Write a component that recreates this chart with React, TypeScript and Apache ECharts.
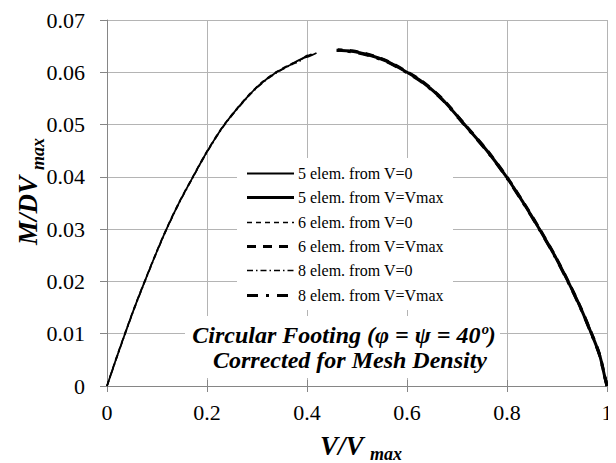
import React, { useEffect, useRef } from "react";
import * as echarts from "echarts";

// V/Vmax and M/(D·Vmax)
const v5From0 = [0, 0.018, 0.036, 0.055, 0.0755, 0.097, 0.119, 0.145, 0.172, 0.2, 0.235, 0.28, 0.31, 0.339, 0.37, 0.39, 0.405, 0.419];
const m5From0 = [0, 0.0051, 0.01, 0.015, 0.02, 0.0251, 0.03, 0.0352, 0.04, 0.0448, 0.05, 0.0552, 0.058, 0.06, 0.0616, 0.0626, 0.0631, 0.0637];
const v6From0 = [0, 0.018, 0.036, 0.055, 0.0755, 0.097, 0.119, 0.145, 0.172, 0.2, 0.235, 0.28, 0.31, 0.339, 0.37, 0.385, 0.395, 0.405, 0.412];
const m6From0 = [0, 0.0052, 0.0101, 0.0151, 0.0201, 0.0252, 0.0301, 0.0353, 0.0401, 0.0449, 0.0501, 0.0553, 0.0581, 0.0601, 0.0617, 0.0623, 0.0628, 0.0633, 0.0636];
const v8From0 = [0, 0.018, 0.036, 0.055, 0.0755, 0.097, 0.119, 0.145, 0.172, 0.2, 0.235, 0.28, 0.31, 0.339, 0.37, 0.385, 0.398, 0.41, 0.416];
const m8From0 = [0, 0.005, 0.0099, 0.0149, 0.0199, 0.025, 0.0299, 0.0351, 0.0399, 0.0447, 0.0499, 0.0551, 0.0579, 0.0599, 0.0615, 0.0621, 0.0631, 0.0634, 0.0637];

const v5FromMax = [1, 0.995, 0.985, 0.969, 0.947, 0.922, 0.895, 0.865, 0.833, 0.799, 0.76, 0.715, 0.67, 0.63, 0.6, 0.56, 0.52, 0.49, 0.459];
const m5FromMax = [0, 0.002, 0.006, 0.01, 0.015, 0.02, 0.025, 0.03, 0.035, 0.04, 0.045, 0.05, 0.0549, 0.0582, 0.06, 0.0621, 0.0634, 0.064, 0.0642];
const v6FromMax = [1, 0.995, 0.985, 0.969, 0.947, 0.922, 0.895, 0.865, 0.833, 0.799, 0.76, 0.715, 0.67, 0.63, 0.6, 0.56, 0.52, 0.49, 0.462];
const m6FromMax = [0, 0.0021, 0.0061, 0.0101, 0.0151, 0.0201, 0.0251, 0.0301, 0.0351, 0.0401, 0.0451, 0.0501, 0.055, 0.0583, 0.0601, 0.0622, 0.0635, 0.0641, 0.0643];
const v8FromMax = [1, 0.995, 0.985, 0.969, 0.947, 0.922, 0.895, 0.865, 0.833, 0.799, 0.76, 0.715, 0.67, 0.63, 0.6, 0.56, 0.52, 0.49, 0.46];
const m8FromMax = [0, 0.0019, 0.0059, 0.0099, 0.0149, 0.0199, 0.0249, 0.0299, 0.0349, 0.0399, 0.0449, 0.0499, 0.0548, 0.0581, 0.0599, 0.062, 0.0633, 0.0639, 0.0642];

const seriesNames = [
  "5 elem. from V=0",
  "5 elem. from V=Vmax",
  "6 elem. from V=0",
  "6 elem. from V=Vmax",
  "8 elem. from V=0",
  "8 elem. from V=Vmax",
];
const xTicks = [0, 0.2, 0.4, 0.6, 0.8, 1];
const yTicks = [0, 0.01, 0.02, 0.03, 0.04, 0.05, 0.06, 0.07];
const noteLines = ["Circular Footing (φ = ψ = 40º)", "Corrected for Mesh Density"];

const FONT = "Liberation Serif";
// the chart div sits at the page's default 8px body margin; page coordinates are shifted by this
const OFF = 8;

const zip = (xs: number[], ys: number[]) => xs.map((x, i) => [x, ys[i]]);

function measure(text: string, font: string, fallback: number) {
  try {
    const ctx = document.createElement("canvas").getContext("2d");
    if (!ctx) return fallback;
    ctx.font = font;
    const w = ctx.measureText(text).width;
    return w > 0 ? w : fallback;
  } catch (e) {
    return fallback;
  }
}

export default function App() {
  const ref = useRef<HTMLDivElement>(null);
  useEffect(() => {
    if (!ref.current) return;
    const chart = echarts.init(ref.current, undefined, { renderer: "svg" });
    const dataSets = [
      zip(v5From0, m5From0),
      zip(v5FromMax, m5FromMax),
      zip(v6From0, m6From0),
      zip(v6FromMax, m6FromMax),
      zip(v8From0, m8From0),
      zip(v8FromMax, m8FromMax),
    ];
    const styles: { width: number; dash: number[] | null }[] = [
      { width: 1.8, dash: null },
      { width: 3, dash: null },
      { width: 1.6, dash: [5, 4] },
      { width: 3, dash: [9, 7] },
      { width: 1.6, dash: [6, 3, 1.5, 3] },
      { width: 3, dash: [11, 8, 3, 8] },
    ];
    const axisLine = { show: true, lineStyle: { color: "#868686", width: 1 } };
    const splitLine = { show: true, lineStyle: { color: "#b4b4b4", width: 1 } };

    const legLeft = 247 - OFF;
    const legLineW = 47;
    const legTop = 173 - OFF;
    const legStep = 24.3;
    const legendGraphics: any[] = [
      {
        type: "rect",
        left: 237 - OFF,
        top: 158 - OFF,
        shape: { width: 216, height: 152 },
        style: { fill: "#fff" },
        z: 10,
      },
    ];
    seriesNames.forEach((name, i) => {
      const y = Math.round(legTop + i * legStep) + 0.5;
      legendGraphics.push({
        type: "line",
        z: 11,
        shape: { x1: legLeft, y1: y, x2: legLeft + legLineW, y2: y },
        style: {
          stroke: "#000",
          lineWidth: styles[i].width,
          lineDash: styles[i].dash || undefined,
        },
      });
      legendGraphics.push({
        type: "text",
        x: legLeft + legLineW + 4,
        y: y - 8,
        z: 11,
        style: { text: name, fontFamily: FONT, fontSize: 16, fill: "#000" },
      });
    });

    // bold italic texts placed by their top-left corner (middle = top + size/2); page coords
    const bi = (text: string, x: number, yMid: number, size: number, rot = 0) => ({
      type: "text",
      x: (rot ? x - size / 2 : x) - OFF,
      y: (rot ? yMid : yMid - size / 2) - OFF,
      rotation: rot,
      z: 11,
      style: {
        text,
        fontFamily: FONT,
        fontSize: size,
        fontWeight: "bold",
        fontStyle: "italic",
        fill: "#000",
      },
    });
    const w0 = measure(noteLines[0], `italic bold 24px ${FONT}`, 300);
    const w1 = measure(noteLines[1], `italic bold 24px ${FONT}`, 280);

    chart.setOption({
      animation: false,
      grid: { left: 107 - OFF, right: 616 - (607 - OFF), top: 20 - OFF, bottom: 463 - (386 - OFF), containLabel: false },
      xAxis: [
        {
          type: "value",
          min: xTicks[0],
          max: xTicks[xTicks.length - 1],
          interval: 0.2,
          axisLine,
          axisTick: { show: true, length: 6, lineStyle: { color: "#868686" } },
          splitLine,
          axisLabel: {
            fontFamily: FONT,
            fontSize: 22,
            color: "#000",
            margin: 15,
            formatter: (v: number) => String(Number(v.toFixed(2))),
          },
        },
        {
          type: "value",
          min: xTicks[0],
          max: xTicks[xTicks.length - 1],
          interval: 0.2,
          position: "bottom",
          axisLine: { show: false },
          axisTick: { show: true, inside: true, length: 6, lineStyle: { color: "#868686" } },
          splitLine: { show: false },
          axisLabel: { show: false },
        },
      ],
      yAxis: {
        type: "value",
        min: yTicks[0],
        max: yTicks[yTicks.length - 1],
        interval: 0.01,
        axisLine,
        axisTick: { show: true, length: 7, lineStyle: { color: "#868686" } },
        splitLine,
        axisLabel: {
          fontFamily: FONT,
          fontSize: 22,
          color: "#000",
          margin: 22,
          formatter: (v: number) => String(Number(v.toFixed(2))),
        },
      },
      series: seriesNames.map((name, i) => ({
        name,
        type: "line",
        xAxisIndex: 0,
        data: dataSets[i],
        symbol: "none",
        smooth: 0.3,
        itemStyle: { color: "#000" },
        lineStyle: { color: "#000", width: styles[i].width, type: styles[i].dash || "solid" },
        z: 2,
      })),
      graphic: [
        ...legendGraphics,
        {
          type: "rect",
          left: 185 - OFF,
          top: 316 - OFF,
          shape: { width: 315, height: 62 },
          style: { fill: "#fff" },
          z: 10,
        },
        bi(noteLines[0], 344 - w0 / 2, 335, 24),
        bi(noteLines[1], 350 - w1 / 2, 360, 24),
        bi("V/V", 320, 446, 27),
        bi("max", 370, 454, 18),
        bi("M/DV", 28, 245, 27, Math.PI / 2),
        bi("max", 38, 170, 18, Math.PI / 2),
      ],
    });
    return () => chart.dispose();
  }, []);
  return <div ref={ref} style={{ width: 616, height: 463 }} />;
}
